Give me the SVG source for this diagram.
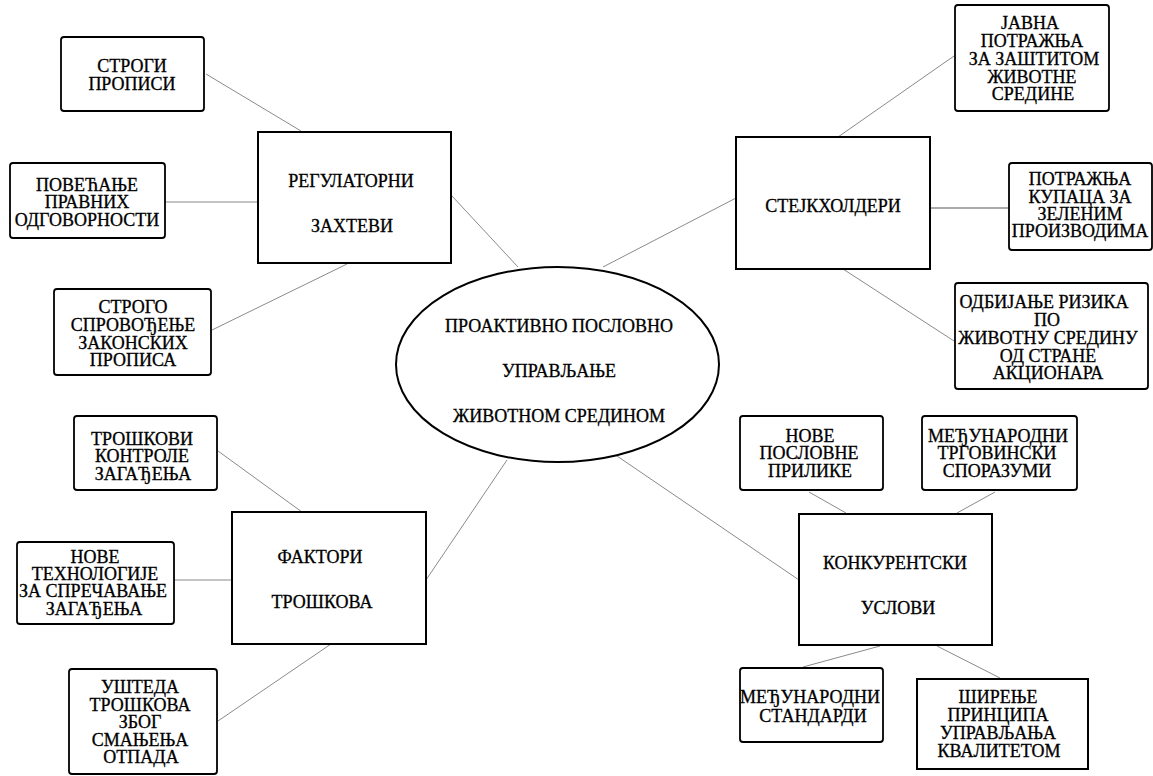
<svg xmlns="http://www.w3.org/2000/svg" width="1153" height="776" viewBox="0 0 1153 776">
<style>
.bg{fill:#fff}
.box{fill:#fff;stroke:#000;stroke-width:1.8}
.main{fill:#fff;stroke:#000;stroke-width:2}
.conn{stroke:#8a8a8a;stroke-width:1;fill:none}
text{font-family:"Liberation Serif","Times New Roman",serif;font-size:18px;fill:#000;stroke:#000;stroke-width:0.3;text-anchor:middle}
</style>
<rect class="bg" x="0" y="0" width="1153" height="776"/>
<g id="connectors">
<line class="conn" x1="206" y1="74" x2="301" y2="131"/>
<line class="conn" x1="165" y1="202" x2="257" y2="202"/>
<line class="conn" x1="212" y1="330" x2="347" y2="264"/>
<line class="conn" x1="452" y1="196" x2="518" y2="267"/>
<line class="conn" x1="838" y1="137" x2="954" y2="56"/>
<line class="conn" x1="931" y1="208" x2="1009" y2="208" style="stroke:#555"/>
<line class="conn" x1="843" y1="269" x2="954" y2="341"/>
<line class="conn" x1="736" y1="198" x2="603" y2="267"/>
<line class="conn" x1="218" y1="451" x2="302" y2="512"/>
<line class="conn" x1="174" y1="580" x2="232" y2="580"/>
<line class="conn" x1="218" y1="721" x2="331" y2="644"/>
<line class="conn" x1="426" y1="580" x2="507" y2="460"/>
<line class="conn" x1="809" y1="492" x2="846" y2="513"/>
<line class="conn" x1="995" y1="492" x2="957" y2="513"/>
<line class="conn" x1="880" y1="646" x2="803" y2="667"/>
<line class="conn" x1="937" y1="646" x2="1000" y2="678"/>
<line class="conn" x1="799" y1="580" x2="617" y2="456"/>
</g>
<g id="center">
<ellipse class="main" cx="557.5" cy="364.5" rx="161.5" ry="97.5"/>
<text x="559" y="332">ПРОАКТИВНО ПОСЛОВНО</text>
<text x="559" y="377">УПРАВЉАЊЕ</text>
<text x="559" y="422">ЖИВОТНОМ СРЕДИНОМ</text>
</g>
<g id="regulatorni">
<rect class="main" x="258" y="132" width="193" height="131"/>
<text x="351" y="187">РЕГУЛАТОРНИ</text>
<text x="352" y="232">ЗАХТЕВИ</text>
</g>
<g id="strogi-propisi">
<rect class="box" x="61" y="37" width="143" height="74" rx="3"/>
<text x="132" y="72">СТРОГИ</text>
<text x="132" y="90">ПРОПИСИ</text>
</g>
<g id="povecanje">
<rect class="box" x="10" y="163" width="155" height="75" rx="3"/>
<text x="87" y="191">ПОВЕЋАЊЕ</text>
<text x="87" y="208">ПРАВНИХ</text>
<text x="87" y="226">ОДГОВОРНОСТИ</text>
</g>
<g id="strogo-sprovodjenje">
<rect class="box" x="54" y="289" width="157" height="86" rx="3"/>
<text x="133" y="313">СТРОГО</text>
<text x="133" y="331">СПРОВОЂЕЊЕ</text>
<text x="133" y="349">ЗАКОНСКИХ</text>
<text x="133" y="366">ПРОПИСА</text>
</g>
<g id="stejkholderi">
<rect class="main" x="736" y="137" width="194" height="132"/>
<text x="833" y="212">СТЕЈКХОЛДЕРИ</text>
</g>
<g id="javna-potraznja">
<rect class="box" x="955" y="5" width="154" height="106" rx="3"/>
<text x="1030" y="29">ЈАВНА</text>
<text x="1032" y="47">ПОТРАЖЊА</text>
<text x="1034" y="65">ЗА ЗАШТИТОМ</text>
<text x="1032" y="83">ЖИВОТНЕ</text>
<text x="1033" y="100">СРЕДИНЕ</text>
</g>
<g id="potraznja-kupaca">
<rect class="box" x="1009" y="163" width="143" height="87" rx="3"/>
<text x="1080" y="185">ПОТРАЖЊА</text>
<text x="1080" y="203">КУПАЦА ЗА</text>
<text x="1080" y="220">ЗЕЛЕНИМ</text>
<text x="1080" y="237">ПРОИЗВОДИМА</text>
</g>
<g id="odbijanje-rizika">
<rect class="box" x="955" y="283" width="193" height="106" rx="3"/>
<text x="1044" y="308">ОДБИЈАЊЕ РИЗИКА</text>
<text x="1047" y="326">ПО</text>
<text x="1048" y="344">ЖИВОТНУ СРЕДИНУ</text>
<text x="1048" y="362">ОД СТРАНЕ</text>
<text x="1048" y="379">АКЦИОНАРА</text>
</g>
<g id="faktori">
<rect class="main" x="232" y="512" width="194" height="132"/>
<text x="320" y="563">ФАКТОРИ</text>
<text x="322" y="608">ТРОШКОВА</text>
</g>
<g id="troskovi-kontrole">
<rect class="box" x="74" y="416" width="143" height="74" rx="3"/>
<text x="142" y="445">ТРОШКОВИ</text>
<text x="142" y="462">КОНТРОЛЕ</text>
<text x="143" y="480">ЗАГАЂЕЊА</text>
</g>
<g id="nove-tehnologije">
<rect class="box" x="17" y="542" width="157" height="82" rx="3"/>
<text x="95" y="563">НОВЕ</text>
<text x="95" y="580">ТЕХНОЛОГИЈЕ</text>
<text x="93" y="597">ЗА СПРЕЧАВАЊЕ</text>
<text x="94" y="615">ЗАГАЂЕЊА</text>
</g>
<g id="ustede">
<rect class="box" x="69" y="669" width="148" height="105" rx="3"/>
<text x="140" y="693">УШТЕДА</text>
<text x="140" y="711">ТРОШКОВА</text>
<text x="140" y="728">ЗБОГ</text>
<text x="140" y="746">СМАЊЕЊА</text>
<text x="141" y="763">ОТПАДА</text>
</g>
<g id="konkurentski">
<rect class="main" x="799" y="514" width="193" height="131"/>
<text x="895" y="569">КОНКУРЕНТСКИ</text>
<text x="898" y="614">УСЛОВИ</text>
</g>
<g id="nove-poslovne">
<rect class="box" x="740" y="416" width="143" height="74" rx="3"/>
<text x="810" y="442">НОВЕ</text>
<text x="809" y="459">ПОСЛОВНЕ</text>
<text x="810" y="477">ПРИЛИКЕ</text>
</g>
<g id="trgovinski">
<rect class="box" x="922" y="416" width="155" height="74" rx="3"/>
<text x="998" y="442">МЕЂУНАРОДНИ</text>
<text x="997" y="459">ТРГОВИНСКИ</text>
<text x="997" y="477">СПОРАЗУМИ</text>
</g>
<g id="standardi">
<rect class="box" x="740" y="668" width="143" height="74" rx="3"/>
<text x="810" y="703">МЕЂУНАРОДНИ</text>
<text x="813" y="722">СТАНДАРДИ</text>
</g>
<g id="sirenje">
<rect class="main" x="917" y="679" width="171" height="90"/>
<text x="998" y="703">ШИРЕЊЕ</text>
<text x="998" y="721">ПРИНЦИПА</text>
<text x="998" y="739">УПРАВЉАЊА</text>
<text x="999" y="757">КВАЛИТЕТОМ</text>
</g>
</svg>
